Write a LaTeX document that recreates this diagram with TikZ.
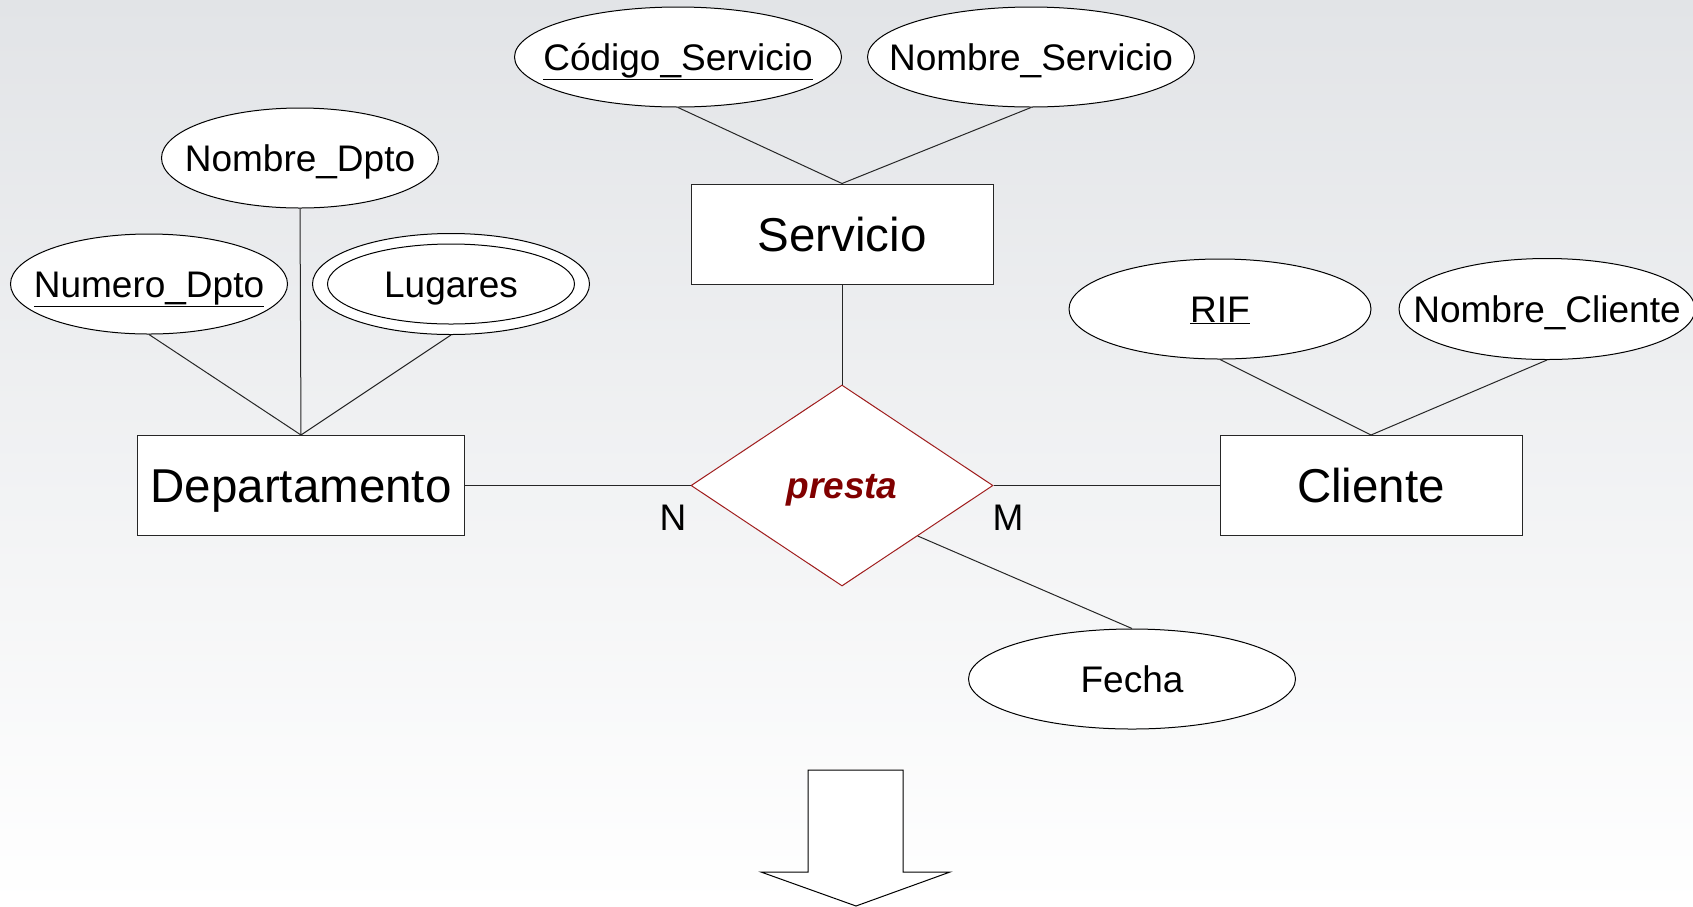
\documentclass[tikz,border=0pt]{standalone}
\usepackage{fontspec}
\setmainfont{Liberation Sans}
\usetikzlibrary{shapes.geometric,calc}
\definecolor{bgtop}{RGB}{226,228,231}
\definecolor{relfill}{RGB}{128,0,0}
\definecolor{relline}{RGB}{160,30,30}
\newcommand{\attrfont}{\fontsize{37}{40}\selectfont}
\newcommand{\entfont}{\fontsize{47.5}{50}\selectfont}
\newcommand{\lbl}[1]{\makebox[0pt]{#1}}
\tikzset{
  entity/.style={draw=black!85,fill=white,line width=1pt,inner sep=0pt,
    minimum width=302pt,minimum height=100pt,font=\entfont,
    text height=34pt,text depth=0pt},
  attrib/.style={ellipse,draw=black,fill=white,line width=1pt,inner sep=0pt,
    minimum width=277pt,minimum height=100pt,font=\attrfont,
    text height=26.5pt,text depth=0pt},
  relation/.style={diamond,draw=relline,fill=white,line width=1pt,inner sep=0pt,
    minimum width=302pt,minimum height=201pt,
    font=\attrfont\bfseries\itshape,text=relfill,
    text height=26.5pt,text depth=0pt},
  link/.style={draw=black!85,line width=1pt},
  card/.style={inner sep=0pt,font=\attrfont,text height=26.5pt,text depth=0pt}
}
\begin{document}
\begin{tikzpicture}[x=1pt,y=-1pt]
\shade[top color=bgtop,bottom color=white] (0,0) rectangle (1693,906);
\useasboundingbox (0,0) rectangle (1693,906);
\node [attrib,minimum width=327pt] (cods) at (678,57) {\lbl{\underline{Código\_Servicio}}};
\node [attrib,minimum width=327pt] (noms) at (1031,57) {\lbl{Nombre\_Servicio}};
\node [entity] (serv) at (842,234) {Servicio};
\node [attrib] (nomd) at (300,158) {\lbl{Nombre\_Dpto}};
\node [attrib] (numd) at (149,284) {\lbl{\underline{Numero\_Dpto}}};
\node [attrib,minimum height=101pt] (lug) at (451,284) {};
\node [attrib,minimum width=247pt,minimum height=80pt] (lugin) at (451,284) {\lbl{Lugares}};
\node [entity,minimum width=327pt] (dep) at (301,485.5) {Departamento};
\node [relation] (pres) at (842,485.5) {presta};
\node [entity] (cli) at (1371,485.5) {Cliente};
\node [attrib,minimum width=302pt] (rif) at (1220,309) {\lbl{\underline{RIF}}};
\node [attrib,minimum width=296pt,minimum height=101pt] (nomc) at (1547,309) {\lbl{Nombre\_Cliente}};
\node [attrib,minimum width=327pt] (fec) at (1132,679) {\lbl{Fecha}};
\node [card] (n) at (673,517) {N};
\node [card] (m) at (1008,517) {M};
\draw [link] (cods.south) -- (serv.north);
\draw [link] (noms.south) -- (serv.north);
\draw [link] (serv.south) -- (pres.north);
\draw [link] (nomd.south) -- (dep.north);
\draw [link] (numd.south) -- (dep.north);
\draw [link] (lug.south) -- (dep.north);
\draw [link] (dep.east) -- (pres.west);
\draw [link] (pres.east) -- (cli.west);
\draw [link] (rif.south) -- (cli.north);
\draw [link] (nomc.south) -- (cli.north);
\draw [link] ($(pres.east)!0.5!(pres.south)$) -- (fec.north);
\draw [fill=white,line width=1pt] (808,770) -- (903,770) -- (903,872) -- (950,872)
  -- (856,906) -- (761,872) -- (808,872) -- cycle;
\end{tikzpicture}
\end{document}
